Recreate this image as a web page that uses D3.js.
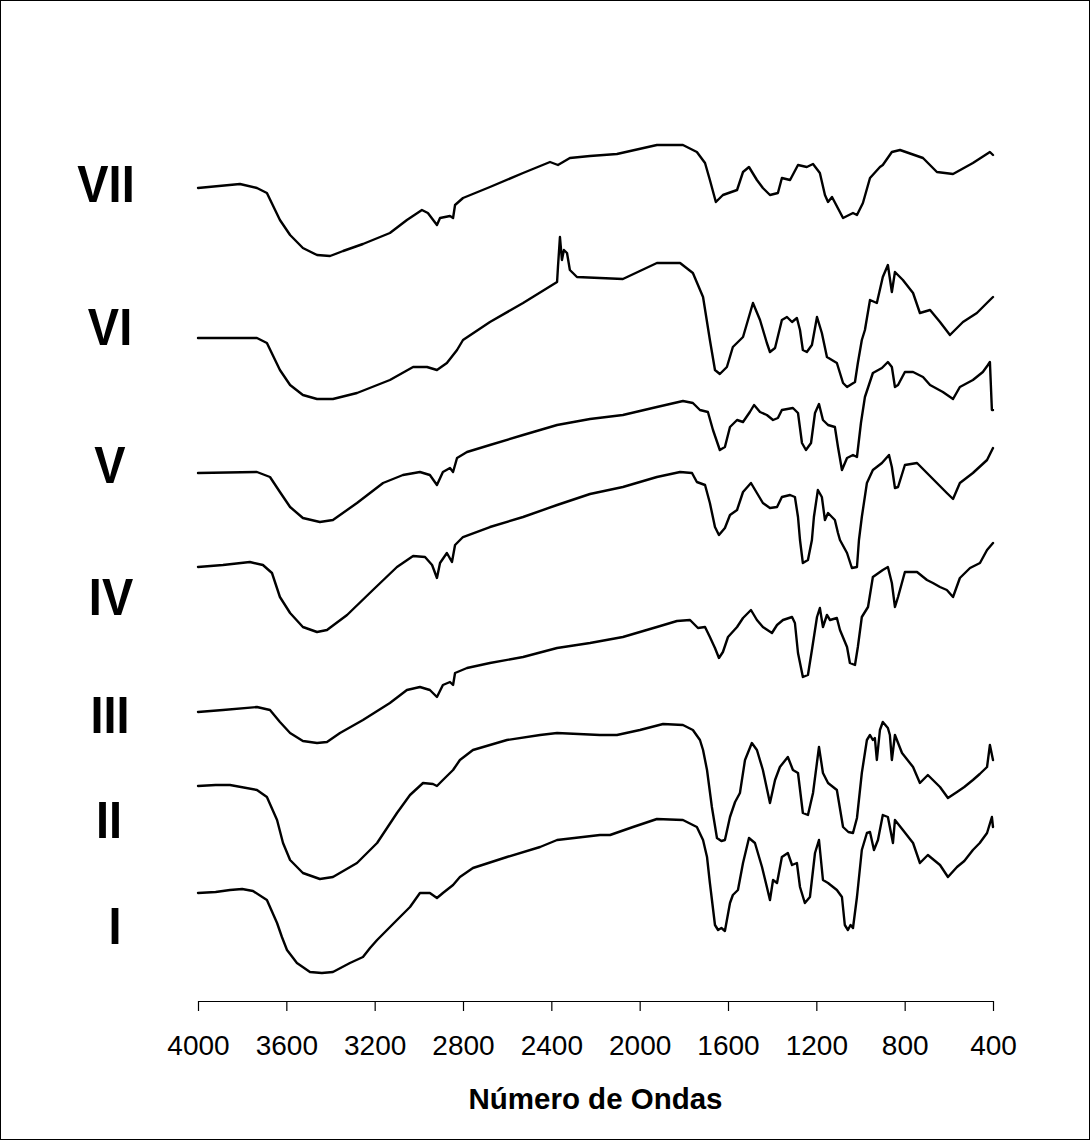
<!DOCTYPE html>
<html>
<head>
<meta charset="utf-8">
<script src="https://cdn.jsdelivr.net/npm/d3@7/dist/d3.min.js"></script>
<style>
  html, body { margin: 0; padding: 0; background: #fff; }
  svg { display: block; }
</style>
</head>
<body>
<svg id="chart" width="1090" height="1140"></svg>
<script>
// FTIR spectra, wavenumber (cm-1) vs. stacked transmittance (arbitrary, offset units)
const wavenumberTicks = [4000, 3600, 3200, 2800, 2400, 2000, 1600, 1200, 800, 400];
const sampleNames = ["I", "II", "III", "IV", "V", "VI", "VII"];
const axisTitle = "Número de Ondas";

const spectrumI = [
  [4000,10.8],[3920,10.9],[3855,11.1],[3800,11.2],[3751,11.0],[3688,10.1],[3642,7.8],[3620,6.4],[3597,5.1],[3552,3.8],
  [3493,2.9],[3439,2.8],[3389,2.9],[3312,3.8],[3253,4.4],[3221,5.3],[3189,6.1],[3099,8.1],
  [3040,9.4],[2995,10.8],[2950,10.8],[2918,10.3],[2891,10.8],[2845,11.6],[2814,12.4],[2755,13.3],
  [2601,14.4],[2451,15.4],[2374,16.1],[2180,16.6],[2134,16.6],[2030,17.4],[1922,18.2],[1804,18.1],
  [1741,17.4],[1713,16.1],[1695,14.4],[1682,11.8],[1659,7.6],[1645,7.1],[1630,7.3],[1614,7.0],[1591,9.8],
  [1578,10.6],[1555,11.1],[1532,13.8],[1505,16.3],[1478,15.8],[1446,13.4],[1424,11.4],[1410,10.1],
  [1396,12.1],[1378,11.8],[1356,14.4],[1329,14.8],[1310,13.6],[1288,13.8],[1274,11.4],[1252,9.8],
  [1229,10.4],[1206,14.8],[1188,16.1],[1170,12.1],[1147,11.8],[1107,11.1],[1084,10.4],[1071,7.6],
  [1057,7.1],[1045,7.6],[1034,7.3],[1016,10.4],[994,15.1],[971,16.8],[957,16.9],[939,15.1],[921,16.1],
  [899,18.6],[876,18.4],[853,15.8],[844,18.1],[808,17.1],[762,15.8],[731,13.8],[695,14.6],
  [640,13.6],[604,12.4],[563,13.4],[530,14.0],[491,15.1],[460,15.8],[427,16.8],[405,18.4],[400,17.4]
];

const spectrumII = [
  [4000,21.5],[3920,21.6],[3855,21.6],[3733,21.1],[3688,20.4],[3642,18.1],[3615,15.8],[3583,14.1],[3525,12.8],
  [3448,12.2],[3389,12.4],[3280,13.8],[3189,15.8],[3099,18.8],[3040,20.6],[2981,21.8],[2936,21.7],
  [2918,21.5],[2891,22.1],[2845,23.1],[2814,24.1],[2755,25.1],[2601,26.1],[2451,26.6],[2374,26.8],
  [2180,26.6],[2103,26.6],[1999,27.1],[1894,27.7],[1804,27.6],[1759,27.1],[1727,26.1],[1713,25.1],
  [1695,23.1],[1673,19.4],[1650,16.3],[1630,16.0],[1614,16.1],[1591,18.4],[1568,19.9],[1546,20.8],[1523,24.1],
  [1492,25.8],[1469,25.1],[1442,23.1],[1410,19.8],[1387,22.1],[1365,23.4],[1329,24.4],[1306,23.1],
  [1283,22.8],[1261,18.8],[1238,18.6],[1215,20.8],[1188,25.4],[1170,22.8],[1147,21.8],[1107,21.1],
  [1079,17.4],[1055,16.9],[1034,16.8],[1016,18.3],[994,22.8],[971,26.1],[957,26.6],[944,26.1],[935,26.3],
  [926,24.1],[912,27.1],[899,27.9],[876,27.3],[867,26.6],[858,24.1],[844,26.6],[812,24.8],
  [762,23.4],[731,21.8],[695,22.6],[640,21.4],[604,20.3],[563,20.9],[530,21.4],[491,22.1],[460,22.7],[427,23.4],
  [414,25.6],[400,24.1]
];

const spectrumIII = [
  [4000,28.9],[3887,29.1],[3733,29.4],[3674,29.1],[3629,27.9],[3583,26.8],[3525,26.0],[3461,25.8],
  [3416,25.9],[3357,26.8],[3253,28.1],[3131,29.8],[3054,31.1],[2995,31.4],[2950,31.1],[2918,30.4],
  [2891,31.6],[2859,31.9],[2845,31.6],[2836,32.8],[2782,33.3],[2678,33.8],[2528,34.4],[2374,35.3],
  [2225,35.8],[2076,36.4],[1922,37.4],[1831,38.0],[1772,38.1],[1736,37.3],[1704,37.4],[1682,36.4],
  [1659,35.3],[1641,34.3],[1623,34.9],[1600,36.4],[1559,37.4],[1532,38.3],[1496,39.1],[1469,38.1],
  [1442,37.4],[1401,36.8],[1378,37.6],[1351,38.1],[1310,38.4],[1297,37.8],[1283,34.8],[1261,32.4],
  [1238,32.6],[1220,35.1],[1197,38.4],[1184,39.3],[1170,37.4],[1152,38.6],[1138,38.1],[1107,38.3],
  [1093,37.1],[1061,35.4],[1048,33.8],[1025,33.6],[1012,35.4],[994,38.4],[966,39.4],[944,42.4],
  [899,43.1],[876,43.4],[858,41.8],[844,39.4],[830,40.4],[799,42.9],[744,42.9],[699,42.1],
  [672,41.8],[640,41.4],[609,41.1],[581,40.4],[550,42.3],[504,43.3],[459,43.8],[427,45.1],[400,45.8]
];

const spectrumIV = [
  [4000,43.4],[3887,43.6],[3765,43.9],[3706,43.6],[3665,42.8],[3629,40.4],[3583,38.8],[3525,37.4],
  [3461,36.9],[3416,37.1],[3325,38.6],[3208,41.1],[3099,43.4],[3026,44.5],[2972,44.4],[2940,43.6],
  [2918,42.3],[2904,43.8],[2873,44.8],[2850,43.9],[2836,45.6],[2800,46.4],[2678,47.4],[2528,48.4],
  [2374,49.6],[2225,50.7],[2076,51.4],[1922,52.4],[1817,52.9],[1763,52.8],[1741,51.9],[1704,51.6],
  [1682,49.8],[1659,47.4],[1641,46.6],[1614,47.3],[1591,48.6],[1559,49.1],[1532,50.9],[1496,51.8],
  [1469,50.8],[1442,49.8],[1410,49.3],[1378,49.4],[1356,50.4],[1319,50.6],[1297,50.4],[1283,48.4],
  [1274,46.1],[1261,43.8],[1238,44.1],[1220,46.1],[1211,48.4],[1193,51.1],[1175,50.4],[1161,48.1],
  [1147,48.8],[1116,48.1],[1102,46.8],[1093,46.1],[1061,44.8],[1039,43.3],[1016,43.4],[1007,46.1],
  [994,48.4],[971,51.8],[944,53.1],[903,53.8],[871,54.6],[858,53.4],[844,51.3],[830,51.4],
  [799,53.6],[744,53.8],[699,52.8],[654,51.8],[609,50.8],[581,50.2],[550,51.8],[491,52.8],
  [427,54.1],[400,55.3]
];

const spectrumV = [
  [4000,52.8],[3733,52.9],[3674,52.4],[3629,50.9],[3583,49.4],[3525,48.3],[3448,47.9],[3389,48.1],
  [3280,49.8],[3162,51.8],[3072,52.6],[2995,52.9],[2950,52.6],[2918,51.6],[2891,52.9],[2859,53.3],
  [2845,52.9],[2827,54.3],[2782,54.9],[2678,55.6],[2528,56.6],[2374,57.6],[2225,58.2],[2076,58.6],
  [1922,59.4],[1804,60.0],[1759,59.8],[1727,59.1],[1691,58.9],[1668,57.1],[1637,55.1],[1614,55.4],
  [1591,57.4],[1559,58.1],[1532,57.9],[1501,58.9],[1482,59.6],[1455,58.9],[1424,58.6],[1396,58.1],
  [1374,58.3],[1356,59.1],[1306,59.3],[1283,58.8],[1265,55.8],[1247,55.1],[1224,55.8],[1206,58.8],
  [1188,59.7],[1170,58.1],[1147,57.6],[1116,57.4],[1102,55.4],[1084,53.1],[1061,54.3],[1034,54.6],
  [1016,54.4],[998,57.8],[980,60.4],[944,62.8],[903,63.3],[876,63.9],[858,63.4],[844,61.4],
  [830,61.6],[799,62.9],[762,62.9],[717,62.4],[685,61.6],[627,60.9],[581,60.2],[550,61.4],
  [491,62.1],[446,62.9],[423,63.6],[414,63.9],[405,59.1],[400,59.1]
];

const spectrumVI = [
  [4000,66.3],[3733,66.3],[3688,65.8],[3629,63.1],[3583,61.6],[3525,60.6],[3461,60.2],[3389,60.2],
  [3280,60.8],[3131,62.1],[3026,63.4],[2963,63.4],[2918,63.1],[2873,63.8],[2827,65.1],[2800,66.1],
  [2678,67.9],[2528,69.8],[2374,71.9],[2370,73.4],[2361,76.4],[2352,74.1],[2343,75.1],[2329,74.8],
  [2316,73.1],[2284,72.4],[2180,72.3],[2076,72.2],[1922,73.8],[1817,73.8],[1759,72.8],[1713,70.4],
  [1682,66.1],[1659,63.1],[1637,62.7],[1605,63.4],[1578,65.4],[1532,66.4],[1487,69.8],[1455,68.1],
  [1424,65.8],[1410,64.9],[1387,65.3],[1356,68.1],[1333,68.4],[1310,67.9],[1288,68.3],[1274,67.1],
  [1261,65.1],[1243,64.9],[1220,65.6],[1197,68.4],[1175,66.8],[1152,64.4],[1107,63.8],[1079,61.8],
  [1061,61.4],[1025,61.9],[1012,63.8],[994,66.1],[980,67.1],[957,70.1],[926,69.8],[899,72.4],
  [876,73.6],[858,70.9],[844,72.9],[808,72.1],[762,70.8],[731,68.8],[685,69.1],[640,67.9],
  [595,66.6],[536,67.9],[473,68.8],[414,70.1],[400,70.4]
];

const spectrumVII = [
  [4000,81.3],[3810,81.7],[3733,81.3],[3688,80.8],[3629,78.1],[3583,76.6],[3525,75.3],[3461,74.6],
  [3402,74.5],[3343,75.0],[3253,75.7],[3131,76.8],[3054,78.1],[2986,79.1],[2959,78.8],[2918,77.6],
  [2904,78.3],[2859,78.5],[2845,78.3],[2836,79.6],[2800,80.3],[2678,81.4],[2528,82.8],[2406,83.9],
  [2370,83.6],[2316,84.3],[2225,84.5],[2103,84.7],[1922,85.6],[1804,85.6],[1741,84.9],[1704,83.8],
  [1682,82.1],[1655,79.9],[1623,80.6],[1559,81.1],[1532,82.9],[1505,83.4],[1469,82.1],[1442,81.3],
  [1410,80.6],[1374,80.8],[1356,82.3],[1319,82.1],[1283,83.6],[1243,83.4],[1215,83.7],[1184,82.8],
  [1161,80.6],[1147,79.9],[1129,80.4],[1079,78.3],[1034,78.8],[1016,78.6],[989,79.8],[957,82.3],
  [912,83.4],[899,83.6],[858,84.9],[821,85.1],[717,84.3],[654,82.9],[581,82.7],[491,83.8],
  [414,84.9],[400,84.6]
];

const spectra = [spectrumI, spectrumII, spectrumIII, spectrumIV, spectrumV, spectrumVI, spectrumVII];

// ---- layout ----
const W = 1090, H = 1140;
const plot = { left: 198, right: 993, top: 141, bottom: 1001 };
// label anchors (x centre, y baseline), in the order of sampleNames
const labelAnchors = [
  [115, 944], [109, 838], [110, 733], [111, 615], [110, 483], [110, 345], [106, 202]
];

const svg = d3.select("#chart");

svg.append("rect")
  .attr("x", 0.5).attr("y", 0.5)
  .attr("width", W - 1).attr("height", H - 1)
  .attr("fill", "#fff").attr("stroke", "#000").attr("stroke-width", 1);

const x = d3.scaleLinear().domain([4000, 400]).range([plot.left, plot.right]);
const y = d3.scaleLinear().domain([0, 86]).range([plot.bottom, plot.top]);

const line = d3.line()
  .x(d => x(d[0]))
  .y(d => y(d[1]));

svg.append("g")
  .selectAll("path")
  .data(spectra)
  .join("path")
  .attr("d", line)
  .attr("fill", "none")
  .attr("stroke", "#000")
  .attr("stroke-width", 2.4)
  .attr("stroke-linejoin", "round")
  .attr("stroke-linecap", "round");

// x axis
const xAxis = d3.axisBottom(x)
  .tickValues(wavenumberTicks)
  .tickFormat(d3.format("d"))
  .tickSize(10)
  .tickPadding(24)
  .tickSizeOuter(0);

const gx = svg.append("g")
  .attr("transform", `translate(0,${plot.bottom})`)
  .call(xAxis);
gx.select(".domain").attr("stroke", "#000").attr("stroke-width", 1.2);
gx.selectAll(".tick line").attr("stroke", "#000").attr("stroke-width", 1.2);
gx.selectAll(".tick text")
  .attr("fill", "#000")
  .style("font-family", "'Liberation Sans', Arial, sans-serif")
  .style("font-size", "28px");

svg.append("text")
  .attr("x", (plot.left + plot.right) / 2)
  .attr("y", 1109)
  .attr("text-anchor", "middle")
  .style("font-family", "'Liberation Sans', Arial, sans-serif")
  .style("font-weight", "bold")
  .style("font-size", "29.5px")
  .attr("fill", "#000")
  .text(axisTitle);

// sample labels
svg.append("g")
  .selectAll("text")
  .data(sampleNames)
  .join("text")
  .attr("transform", (d, i) => `translate(${labelAnchors[i][0]},${labelAnchors[i][1]}) scale(0.92,1)`)
  .attr("text-anchor", "middle")
  .style("font-family", "'Liberation Sans', Arial, sans-serif")
  .style("font-weight", "bold")
  .style("font-size", "51px")
  .attr("fill", "#000")
  .text(d => d);
</script>
</body>
</html>
